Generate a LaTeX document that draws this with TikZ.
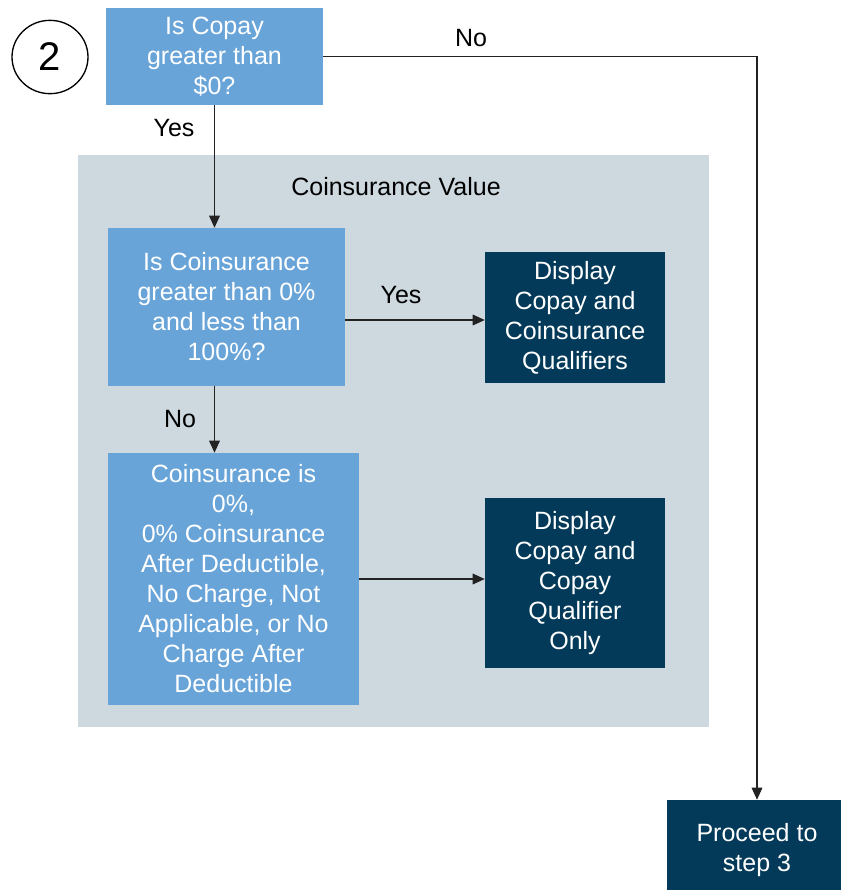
\documentclass[tikz,border=0pt]{standalone}
\usepackage{fontspec}
\setmainfont{Liberation Sans}
\usetikzlibrary{arrows.meta,shapes.geometric}

\definecolor{lightbox}{HTML}{68A4D8}
\definecolor{darkbox}{HTML}{033A59}
\definecolor{regiongray}{HTML}{CDD8DF}
\definecolor{linegray}{HTML}{222222}

\begin{document}
\begin{tikzpicture}[x=0.75pt,y=-0.75pt]

      \useasboundingbox (0,0) rectangle (841,890);

      % shaded region
      \fill[regiongray] (78,155) rectangle (709,727);

      \begin{scope}[every node/.style={align=center, text=white, inner sep=0pt,
          font=\fontsize{18.75}{22.5}\selectfont}]
        \node[fill=lightbox, minimum width=162.75pt, minimum height=72.75pt] (copay) at (214.5,56.5)
          {Is Copay\\greater than\\\$0?};
        \node[fill=lightbox, minimum width=177.75pt, minimum height=118.5pt] (coins) at (226.5,307)
          {Is Coinsurance\\greater than 0\%\\and less than\\100\%?};
        \node[fill=darkbox, minimum width=135pt, minimum height=98.25pt] (both) at (575,317.5)
          {Display\\Copay and\\Coinsurance\\Qualifiers};
        \node[fill=lightbox, minimum width=188.25pt, minimum height=189pt] (zero) at (233.5,579)
          {Coinsurance is\\0\%,\\0\% Coinsurance\\After Deductible,\\No Charge, Not\\Applicable, or No\\Charge After\\Deductible};
        \node[fill=darkbox, minimum width=135pt, minimum height=127.5pt] (only) at (575,583)
          {Display\\Copay and\\Copay\\Qualifier\\Only};
        \node[fill=darkbox, minimum width=135pt, minimum height=75pt] (step3) at (757,850)
          {Proceed to\\step 3};
      \end{scope}

      \node[ellipse, draw, line width=1pt, minimum width=57pt, minimum height=55pt, inner sep=0pt,
        font=\fontsize{30}{30}\selectfont] (num) at (50,57) {2};

      \begin{scope}[every node/.style={font=\fontsize{18.75}{22.5}\selectfont, text=black}]
        \node (cvlabel) at (396,187) {Coinsurance Value};
        \node (yes1) at (174,128) {Yes};
        \node (no1)  at (471,38)  {No};
        \node (yes2) at (401,295) {Yes};
        \node (no2)  at (180,419) {No};
      \end{scope}

      \coordinate (yesout) at (345,320);

      \begin{scope}[every path/.style={draw=linegray, line width=0.8pt,
          -{Triangle[length=9pt,width=8pt]}}]
        \path (copay.south) -- (copay.south |- coins.north);
        \path (copay.east) -| (step3.north);
        \path (yesout) -- (yesout -| both.west);
        \path (copay.south |- coins.south) -- (copay.south |- zero.north);
        \path (zero.east) -- (zero.east -| only.west);
      \end{scope}

    \end{tikzpicture}
\end{document}
